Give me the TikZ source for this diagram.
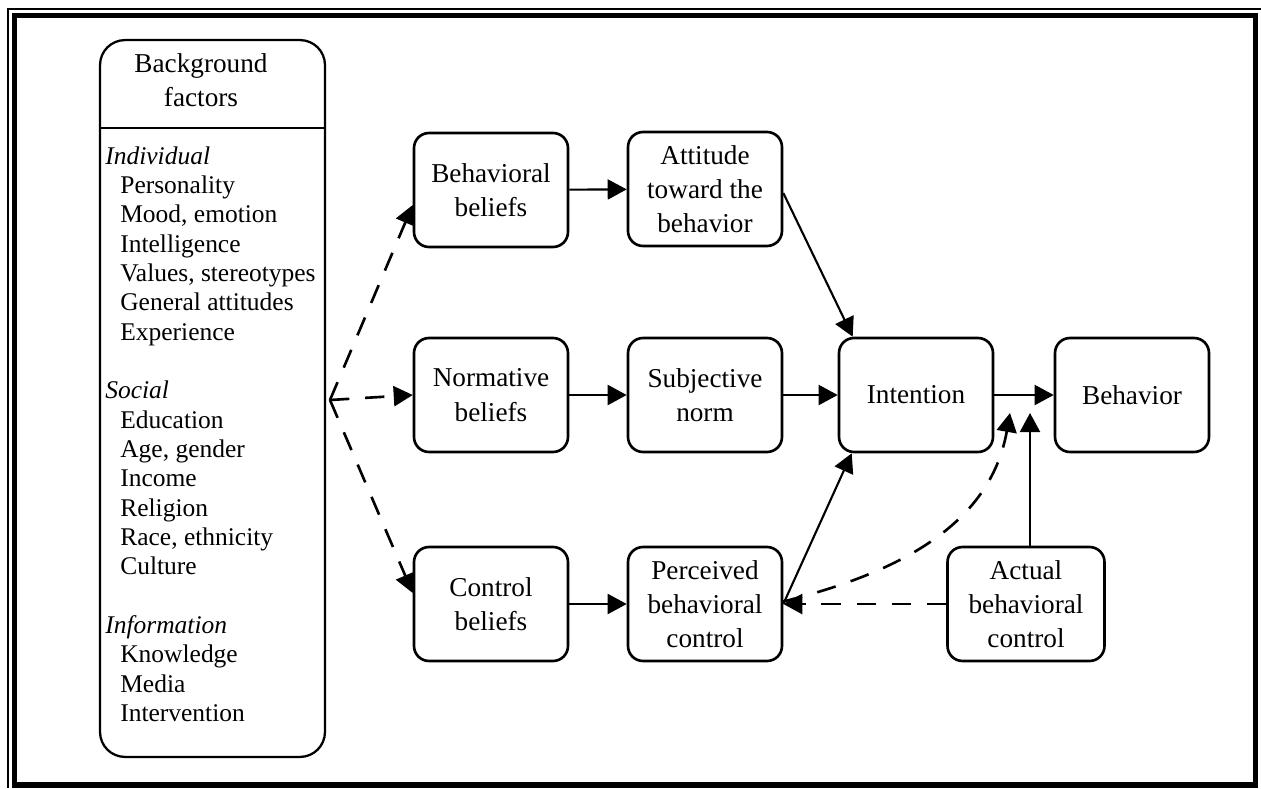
\documentclass[tikz,border=0pt]{standalone}
\usepackage{fontspec}
\setmainfont{Liberation Serif}
\usetikzlibrary{arrows.meta,calc}
\tikzset{
  stage/.style={draw, line width=1.5pt, rounded corners=0.3cm, minimum width=3.08cm, minimum height=2.28cm, align=center, inner sep=2pt, font=\fontsize{15.5}{19.5}\selectfont},
  arr/.style={line width=1.2pt, -{Triangle[length=0.38cm,width=0.4cm]}},
  dasharr/.style={arr, line width=1.5pt, dash pattern=on 11pt off 9pt},
}

\begin{document}
\begin{tikzpicture}[x=0.02cm, y=-0.02cm]
		\useasboundingbox (0,0) rectangle (1261,788);
		%Frame
		\draw[line width=3pt] (14.5,15.5) rectangle (1255.5,785);
		\draw[line width=0.6pt] (8,788) -- (8,9) -- (1261,9);
		%Background factors
		\node (bg) [draw, line width=1.3pt, rounded corners=0.5cm, minimum width=4.5cm, minimum height=14.34cm] at (212.5,398.5) {};
		\coordinate (div) at (0,128);
		\draw[line width=1pt] (bg.west |- div) -- (bg.east |- div);
		\node (bgtitle) [align=center, font=\fontsize{15.5}{19.3}\selectfont] at (201,80) {Background\\factors};
		\node (bglist) [anchor=north west, inner sep=0pt, align=left, font=\fontsize{14.5}{16.7}\selectfont] at (105,146) {%
			\textit{Individual}\\
			\hspace*{0.3cm}Personality\\
			\hspace*{0.3cm}Mood, emotion\\
			\hspace*{0.3cm}Intelligence\\
			\hspace*{0.3cm}Values, stereotypes\\
			\hspace*{0.3cm}General attitudes\\
			\hspace*{0.3cm}Experience\\[16.7pt]
			\textit{Social}\\
			\hspace*{0.3cm}Education\\
			\hspace*{0.3cm}Age, gender\\
			\hspace*{0.3cm}Income\\
			\hspace*{0.3cm}Religion\\
			\hspace*{0.3cm}Race, ethnicity\\
			\hspace*{0.3cm}Culture\\[16.7pt]
			\textit{Information}\\
			\hspace*{0.3cm}Knowledge\\
			\hspace*{0.3cm}Media\\
			\hspace*{0.3cm}Intervention};
		%Stages
		\node (bb) [stage] at (491,190) {Behavioral\\beliefs};
		\node (att) [stage] at (705,189) {Attitude\\toward the\\behavior};
		\node (nb) [stage] at (491,395) {Normative\\beliefs};
		\node (sn) [stage] at (705,395) {Subjective\\norm};
		\node (int) [stage] at (916,395) {Intention};
		\node (beh) [stage] at (1132,395) {Behavior};
		\node (cb) [stage] at (491,604) {Control\\beliefs};
		\node (pbc) [stage] at (705,604) {Perceived\\behavioral\\control};
		\node (abc) [stage, minimum width=3.14cm] at (1026,604) {Actual\\behavioral\\control};
		%Auxiliary points
		\coordinate (src) at (330,400);
		\coordinate (mod1) at (1010,413);
		\coordinate (mod2) at (1030,413);
		%Dashed arrows
		\draw [dasharr] (src) -- ([yshift=-0.3cm]bb.west);
		\draw [dasharr] (src) -- (nb.west);
		\draw [dasharr] (src) -- ([yshift=0.22cm]cb.west);
		\draw [dasharr] (abc.west) -- (pbc.east);
		\draw [dasharr] ([yshift=0.05cm]pbc.east) to[out=14,in=-100] (mod1);
		%Solid arrows
		\draw [arr] (bb) -- (att);
		\draw [arr] (nb) -- (sn);
		\draw [arr] (sn) -- (int);
		\draw [arr] (int) -- (beh);
		\draw [arr] (cb) -- (pbc);
		\draw [arr] ([yshift=-0.08cm]att.east) -- ([xshift=0.3cm]int.north west);
		\draw [arr] (pbc.east) -- ([xshift=0.28cm]int.south west);
		\draw [arr] (abc.north -| mod2) -- (mod2);
	\end{tikzpicture}
\end{document}
